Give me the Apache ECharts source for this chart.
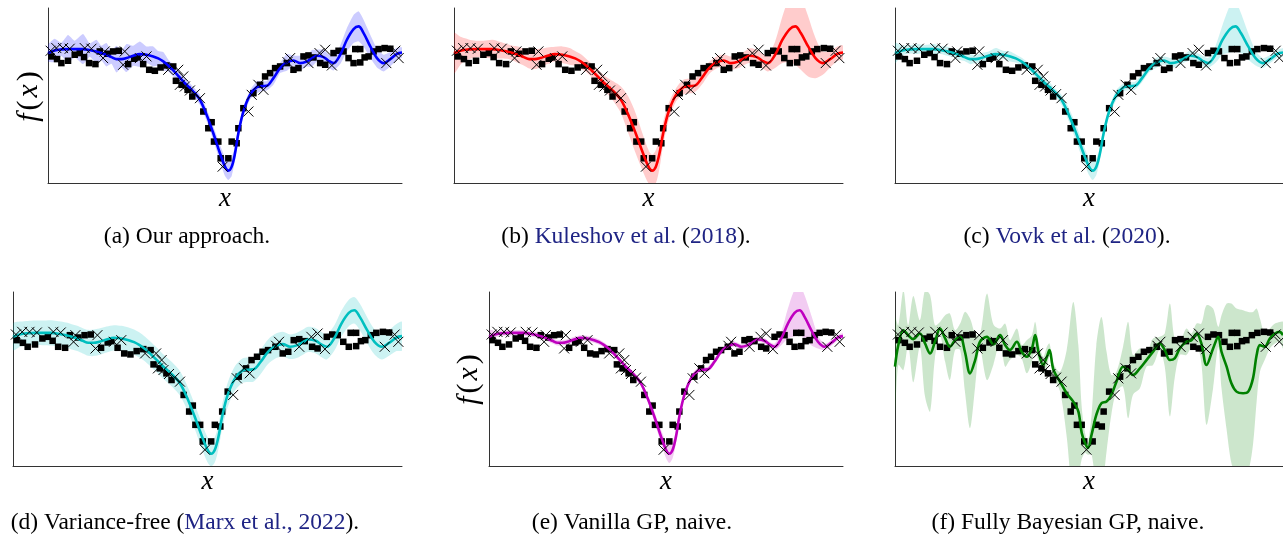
<!DOCTYPE html>
<html>
<head>
<meta charset="utf-8">
<script src="https://cdn.jsdelivr.net/npm/echarts@6/dist/echarts.min.js"></script>
<style>
html, body { margin: 0; padding: 0; background: #fff; }
#main { width: 1283px; height: 536px; }
</style>
</head>
<body>
<div id="main"></div>
<script>
// all panels share one unit system: x 0..1060, f(x) 0..524
var xMax = 1060, yMax = 524;

// training points (crosses)
var trainX = [8, 25, 45, 65, 110, 130, 165, 170, 225, 230, 275, 295, 360, 390, 405, 395, 410, 425, 440, 455,
  523, 600, 610, 630, 645, 717, 725, 780, 813, 830, 850, 1013, 1040, 1050];
var trainY = [396, 404, 404, 402, 404, 402, 374, 394, 354, 394, 374, 379, 339, 339, 319, 294, 289, 277, 266, 254,
  49, 214, 264, 294, 279, 362, 374, 359, 389, 399, 352, 359, 396, 374];

// test points (squares)
var testX = [10, 27, 40, 60, 80, 95, 108, 123, 142, 155, 178, 195, 212, 240, 258, 268, 285, 303, 320, 337,
  355, 375, 383, 400, 418, 432, 465, 480, 490, 497, 510, 517, 540, 550, 565, 570, 585, 615, 635, 650,
  665, 680, 695, 715, 735, 750, 765, 780, 795, 815, 830, 855, 870, 885, 900, 915, 920, 935, 935, 948,
  960, 975, 990, 1008, 1025];
var testY = [379, 371, 359, 366, 384, 389, 377, 359, 356, 394, 387, 394, 396, 356, 372, 376, 356, 339, 336, 346,
  352, 349, 306, 294, 279, 259, 214, 164, 182, 124, 124, 74, 74, 124, 119, 164, 224, 269, 294, 319,
  329, 344, 349, 359, 339, 344, 379, 382, 376, 359, 354, 389, 396, 394, 374, 359, 401, 361, 401, 376,
  379, 394, 401, 404, 402];

// predictive mean shared by panels a-e
var meanX = [0, 20, 40, 60, 80, 105, 125, 145, 160, 175, 190, 205, 220, 235, 255, 275, 295, 315, 330, 345,
  360, 375, 390, 405, 420, 435, 455, 475, 495, 515, 530, 540, 550, 560, 570, 585, 605, 625, 640, 655,
  675, 695, 715, 735, 755, 775, 790, 805, 825, 840, 855, 875, 895, 915, 930, 945, 965, 985, 1005, 1025,
  1045, 1060];
var meanY = [389, 397, 400, 401, 401, 401, 398, 394, 389, 384, 377, 371, 371, 374, 381, 386, 384, 379, 373, 364,
  352, 337, 321, 304, 289, 274, 249, 204, 149, 89, 49, 37, 49, 89, 149, 214, 264, 287, 290, 291,
  314, 344, 361, 367, 359, 364, 373, 381, 377, 366, 359, 384, 429, 461, 469, 449, 409, 374, 359, 371,
  387, 391];

// half widths of the uncertainty band, one list per panel (a-e)
var bandA = [25, 35, 20, 42, 25, 45, 20, 35, 22, 35, 20, 40, 25, 42, 30, 38, 25, 30, 22, 28,
  18, 18, 15, 15, 15, 14, 15, 18, 20, 25, 28, 28, 28, 22, 18, 15, 14, 18, 15, 14,
  20, 15, 25, 15, 22, 15, 25, 18, 22, 20, 22, 28, 35, 42, 45, 40, 35, 28, 25, 22, 18, 15];
var bandB = [60, 40, 30, 25, 25, 28, 25, 22, 22, 25, 25, 28, 30, 28, 25, 22, 25, 25, 22, 22,
  20, 20, 20, 22, 25, 30, 40, 55, 60, 55, 50, 48, 50, 45, 35, 25, 20, 22, 22, 20,
  20, 18, 18, 18, 20, 20, 20, 22, 22, 22, 25, 40, 70, 100, 115, 110, 90, 60, 35, 25, 22, 20];
var bandC = [30, 15, 12, 15, 12, 15, 12, 14, 12, 15, 12, 15, 12, 15, 12, 18, 12, 15, 12, 12,
  12, 12, 12, 12, 15, 12, 15, 20, 25, 25, 25, 28, 25, 20, 15, 12, 15, 12, 12, 12,
  12, 12, 15, 12, 15, 12, 12, 15, 12, 15, 15, 25, 45, 70, 75, 60, 40, 22, 15, 12, 12, 12];
var bandD = [40, 38, 37, 37, 37, 38, 38, 38, 38, 38, 38, 39, 40, 40, 39, 38, 38, 38, 38, 38,
  37, 37, 37, 37, 37, 37, 37, 37, 37, 38, 38, 38, 38, 37, 37, 37, 37, 37, 37, 37,
  37, 37, 37, 37, 37, 38, 38, 38, 38, 38, 38, 38, 39, 40, 40, 40, 39, 38, 38, 39, 41, 43];
var bandE = [20, 10, 8, 8, 8, 8, 8, 8, 8, 8, 8, 8, 8, 8, 8, 8, 8, 8, 8, 8,
  8, 8, 8, 8, 8, 8, 8, 10, 15, 20, 25, 28, 25, 18, 12, 8, 8, 8, 8, 8,
  8, 8, 8, 8, 8, 8, 8, 8, 8, 8, 10, 20, 45, 70, 75, 65, 45, 20, 10, 8, 8, 8];

// fully bayesian GP (panel f): its own mean and band
var fbX = [0, 9, 23, 36, 50, 68, 82, 96, 109, 123, 137, 150, 164, 178, 191, 205, 219, 232, 251, 269,
  287, 301, 314, 333, 346, 360, 374, 383, 392, 405, 415, 422, 433, 451, 469, 487, 501, 510, 519, 527,
  537, 550, 564, 578, 591, 605, 623, 637, 650, 669, 687, 705, 723, 737, 751, 764, 778, 796, 810, 824,
  837, 851, 869, 883, 892, 906, 919, 933, 951, 965, 978, 988, 997, 1010, 1024, 1038, 1051, 1060];
var fbY = [299, 364, 409, 394, 382, 399, 369, 339, 374, 414, 384, 359, 379, 389, 344, 279, 319, 374, 389, 366,
  394, 364, 349, 374, 344, 329, 354, 394, 344, 304, 329, 349, 289, 254, 219, 194, 164, 100, 70, 54,
  94, 154, 189, 194, 214, 254, 299, 289, 274, 294, 319, 344, 369, 349, 319, 324, 354, 374, 379, 399,
  369, 304, 354, 389, 344, 299, 249, 224, 219, 224, 264, 334, 364, 359, 384, 399, 404, 394];
var fbBand = [150, 60, 120, 30, 130, 40, 160, 175, 50, 20, 70, 100, 30, 40, 120, 165, 80, 20, 130, 60,
  20, 65, 30, 40, 20, 50, 40, 40, 30, 25, 30, 20, 20, 30, 130, 300, 200, 80, 30, 20,
  60, 210, 260, 150, 60, 30, 60, 145, 60, 60, 20, 40, 20, 50, 170, 60, 20, 40, 20, 30,
  60, 180, 120, 30, 110, 190, 240, 250, 250, 240, 200, 140, 80, 40, 30, 30, 30, 40];

var captions = [
  '(a) Our approach.',
  '(b) {l|Kuleshov et al.} ({l|2018}).',
  '(c) {l|Vovk et al.} ({l|2020}).',
  '(d) Variance-free ({l|Marx et al., 2022}).',
  '(e) Vanilla GP, naive.',
  '(f) Fully Bayesian GP, naive.'
];

var serif = 'Liberation Serif';
var navy = '#1f2484';

// layout and colours of the six panels
var panels = [
  { grid: { left: 48, top: 8, width: 354, height: 175 }, line: '#0000ff', fill: 'rgba(0,0,255,0.2)',
    mx: meanX, my: meanY, band: bandA, sm: 0.15, cap: [187, 237], ylab: [29, 97] },
  { grid: { left: 454, top: 8, width: 389, height: 175 }, line: '#ff0000', fill: 'rgba(255,0,0,0.2)',
    mx: meanX, my: meanY, band: bandB, sm: 0.3, cap: [626, 237] },
  { grid: { left: 895, top: 8, width: 388, height: 175 }, line: '#00bfbf', fill: 'rgba(0,191,191,0.2)',
    mx: meanX, my: meanY, band: bandC, sm: 0.2, cap: [1067, 237] },
  { grid: { left: 13, top: 292, width: 389, height: 174 }, line: '#00bfbf', fill: 'rgba(0,191,191,0.2)',
    mx: meanX, my: meanY, band: bandD, sm: 0.3, cap: [185, 523] },
  { grid: { left: 489, top: 292, width: 354, height: 174 }, line: '#bf00bf', fill: 'rgba(191,0,191,0.2)',
    mx: meanX, my: meanY, band: bandE, sm: 0.3, cap: [632, 523], ylab: [469, 380] },
  { grid: { left: 895, top: 292, width: 388, height: 174 }, line: '#008000', fill: 'rgba(0,128,0,0.2)',
    mx: fbX, my: fbY, band: fbBand, sm: 0.3, cap: [1068, 523] }
];

var chart = echarts.init(document.getElementById('main'));

function zip(a, b) {
  return a.map(function (v, k) { return [v, b[k]]; });
}

var grids = [], xAxes = [], yAxes = [], series = [], graphics = [];
var axisLine = { show: true, onZero: false, lineStyle: { color: '#333', width: 1 } };

panels.forEach(function (p, i) {
  grids.push(p.grid);
  xAxes.push({ gridIndex: i, type: 'value', min: 0, max: xMax, axisLine: axisLine,
    axisTick: { show: false }, axisLabel: { show: false }, splitLine: { show: false } });
  yAxes.push({ gridIndex: i, type: 'value', min: 0, max: yMax, axisLine: axisLine,
    axisTick: { show: false }, axisLabel: { show: false }, splitLine: { show: false } });

  // band = mean +- half width, drawn as one polygon
  var bandData = p.mx.map(function (x, k) { return [x, p.my[k] - p.band[k], p.my[k] + p.band[k]]; });
  series.push({
    type: 'custom', xAxisIndex: i, yAxisIndex: i, silent: true, z: 1,
    data: bandData,
    encode: { x: 0, y: [1, 2] },
    renderItem: function (params, api) {
      if (params.dataIndexInside !== 0) return;
      var up = [], lo = [];
      bandData.forEach(function (d) {
        up.push(api.coord([d[0], d[2]]));
        lo.unshift(api.coord([d[0], d[1]]));
      });
      var cs = params.coordSys;
      return {
        type: 'polygon',
        shape: { points: up.concat(lo), smooth: p.sm },
        style: { fill: p.fill },
        clipPath: { type: 'rect', shape: { x: cs.x, y: cs.y, width: cs.width, height: cs.height } }
      };
    }
  });
  series.push({
    type: 'scatter', xAxisIndex: i, yAxisIndex: i, z: 2, silent: true,
    symbol: 'rect', symbolSize: 6.5, itemStyle: { color: '#000', opacity: 1 },
    data: zip(testX, testY)
  });
  series.push({
    type: 'line', xAxisIndex: i, yAxisIndex: i, z: 3, silent: true,
    smooth: 0.35, showSymbol: false, symbol: 'none',
    lineStyle: { color: p.line, width: 2.6 },
    data: zip(p.mx, p.my)
  });
  series.push({
    type: 'scatter', xAxisIndex: i, yAxisIndex: i, z: 4, silent: true,
    symbol: 'path://M0,0L10,10M10,0L0,10', symbolSize: 10,
    itemStyle: { color: 'transparent', borderColor: '#000', borderWidth: 1, opacity: 1 },
    data: zip(trainX, trainY)
  });

  // x label under the axis
  graphics.push({
    type: 'text', x: p.grid.left + p.grid.width / 2, y: p.grid.top + p.grid.height + 16,
    style: { text: 'x', fontStyle: 'italic', fontSize: 27, fontFamily: serif, fill: '#000',
      align: 'center', verticalAlign: 'middle' }
  });
  // caption
  graphics.push({
    type: 'text', x: p.cap[0], y: p.cap[1],
    style: {
      text: captions[i], fill: '#000', fontSize: 23.5, fontFamily: serif,
      align: 'center', verticalAlign: 'middle',
      rich: { l: { fill: navy, fontSize: 23.5, fontFamily: serif } }
    }
  });
  if (p.ylab) {
    graphics.push({
      type: 'text', x: p.ylab[0], y: p.ylab[1], rotation: Math.PI / 2,
      style: {
        text: '{i|f}{n|(}{i|x}{n|)}', fill: '#000', align: 'center', verticalAlign: 'middle',
        rich: {
          i: { fontStyle: 'italic', fontSize: 30, fontFamily: serif, padding: [0, 2, 0, 2] },
          n: { fontSize: 30, fontFamily: serif, padding: [0, 1, 0, 1] }
        }
      }
    });
  }
});

chart.setOption({
  animation: false,
  backgroundColor: '#fff',
  grid: grids,
  xAxis: xAxes,
  yAxis: yAxes,
  series: series,
  graphic: graphics
});

window.addEventListener('resize', function () {
  chart.resize();
});
</script>
</body>
</html>
